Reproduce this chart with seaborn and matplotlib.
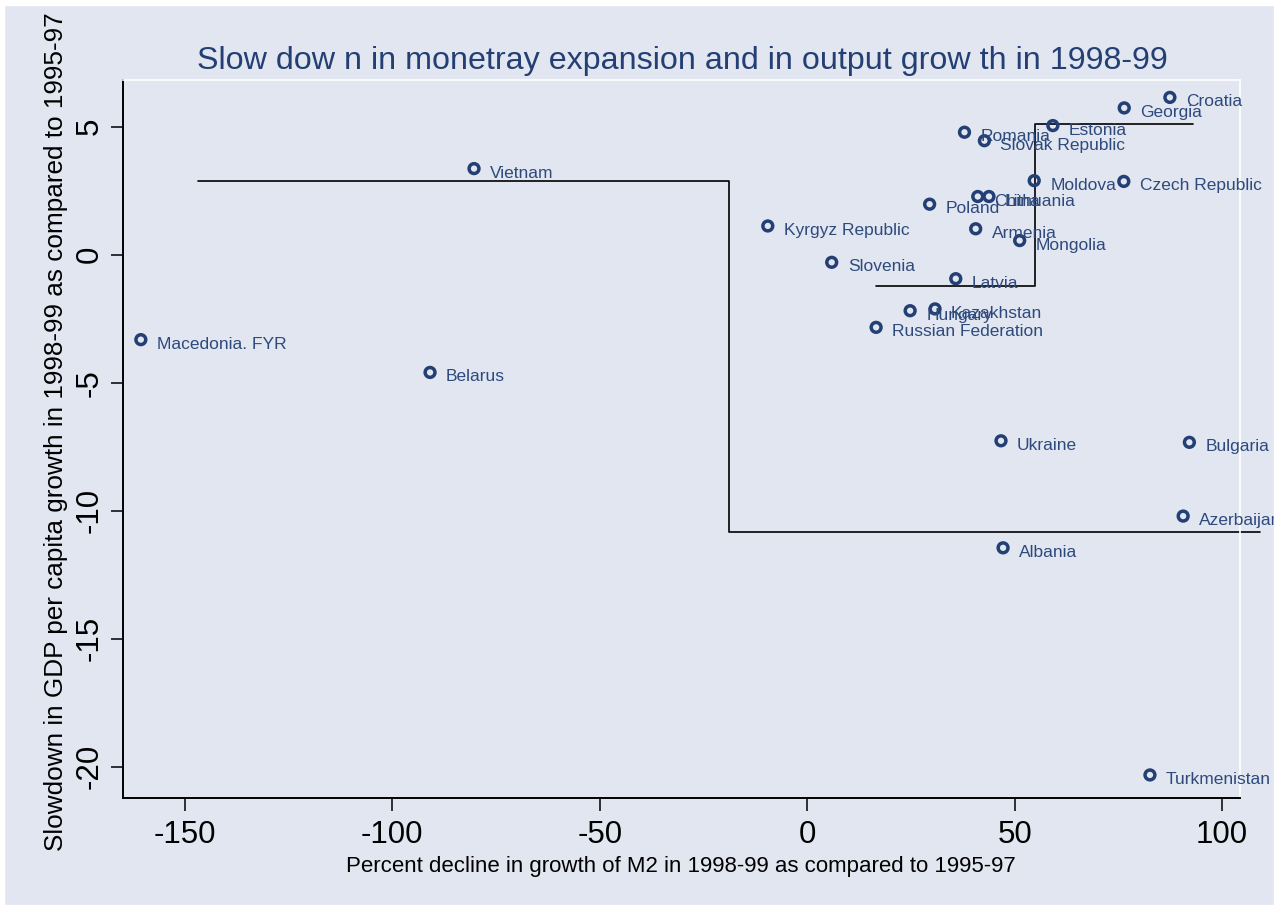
import numpy as np
import pandas as pd
import matplotlib
matplotlib.use('Agg')
import matplotlib.pyplot as plt
from matplotlib.patches import Rectangle
import seaborn as sns

countries = ['Macedonia. FYR', 'Belarus', 'Vietnam', 'Kyrgyz Republic', 'Slovenia',
             'Russian Federation', 'Hungary', 'Poland', 'Kazakhstan', 'Latvia',
             'Romania', 'Armenia', 'China', 'Slovak Republic', 'Lithuania',
             'Ukraine', 'Albania', 'Mongolia', 'Moldova', 'Estonia',
             'Czech Republic', 'Georgia', 'Turkmenistan', 'Croatia', 'Azerbaijan',
             'Bulgaria']
m2_decline = [-160.6, -90.9, -80.3, -9.5, 5.9,
              16.6, 24.8, 29.5, 30.8, 35.8,
              37.9, 40.6, 41.1, 42.7, 43.8,
              46.7, 47.2, 51.2, 54.7, 59.2,
              76.3, 76.4, 82.6, 87.4, 90.6,
              92.1]
gdp_slowdown = [-3.32, -4.60, 3.36, 1.12, -0.30,
                -2.84, -2.19, 1.97, -2.12, -0.94,
                4.78, 1.01, 2.27, 4.45, 2.27,
                -7.27, -11.45, 0.55, 2.89, 5.04,
                2.86, 5.73, -20.32, 6.14, -10.21,
                -7.33]

# step lines of the fitted splits
step_a_x = [-146.9, -18.9, -18.9, 109.1]
step_a_y = [2.89, 2.89, -10.82, -10.82]
step_b_x = [16.6, 54.8, 54.8, 93.0]
step_b_y = [-1.21, -1.21, 5.11, 5.11]

x_ticks = [-150, -100, -50, 0, 50, 100]
y_ticks = [-20, -15, -10, -5, 0, 5]

BG = '#e1e6f0'
NAVY = '#233f73'
LABEL = '#2e4a7d'

sns.set_theme(style='white')
plt.rcParams['font.family'] = ['Liberation Sans', 'DejaVu Sans']
plt.rcParams['axes.unicode_minus'] = False

df = pd.DataFrame({'country': countries, 'm2': m2_decline, 'gdp': gdp_slowdown})

W, H = 1285, 909
fig = plt.figure(figsize=(W / 100, H / 100), dpi=100, facecolor=BG)
ax = fig.add_axes([123 / W, 1 - 798 / H, (1240 - 123) / W, (798 - 80) / H])
ax.set_facecolor(BG)

ax.plot(step_a_x, step_a_y, color='black', lw=1.2, clip_on=False, zorder=2)
ax.plot(step_b_x, step_b_y, color='black', lw=1.2, clip_on=False, zorder=2)

sns.scatterplot(data=df, x='m2', y='gdp', ax=ax, marker='o', s=50,
                facecolors='none', edgecolor=NAVY, linewidth=2.5, zorder=3, clip_on=False)

for name, xv, yv in zip(countries, m2_decline, gdp_slowdown):
    ax.annotate(name, (xv, yv), xytext=(16, -9), textcoords='offset pixels',
                ha='left', va='baseline', fontsize=12.5, color=LABEL,
                annotation_clip=False, zorder=4)

ax.set_xlim(-164.9, 104.3)
ax.set_ylim(-21.22, 6.82)
ax.set_xticks(x_ticks)
ax.set_yticks(y_ticks)
ax.set_xlabel('')
ax.set_ylabel('')

for side in ['top', 'right']:
    ax.spines[side].set_color('white')
    ax.spines[side].set_linewidth(1.2)
for side in ['left', 'bottom']:
    ax.spines[side].set_color('black')
    ax.spines[side].set_linewidth(1.4)

ax.tick_params(axis='both', direction='out', length=9, width=1.1, color='black',
               labelsize=22.5, labelcolor='black', left=True, bottom=True)
ax.tick_params(axis='x', pad=7)
ax.tick_params(axis='y', pad=4.5, labelrotation=90)
for lab in ax.get_yticklabels():
    lab.set_va('center')

fig.text(682.5 / W, 1 - 68.5 / H,
         'Slow dow n in monetray expansion and in output grow th in 1998-99',
         ha='center', va='baseline', fontsize=23.2, color=NAVY)
fig.text(681 / W, 1 - 872 / H,
         'Percent decline in growth of M2 in 1998-99 as compared to 1995-97',
         ha='center', va='baseline', fontsize=16, color='black')
fig.text(44 / W, 1 - 432 / H,
         'Slowdown in GDP per capita growth in 1998-99 as compared to 1995-97',
         ha='left', va='center', rotation=90, fontsize=18.8, color='black')

# white frame outside the graph region
for rect in [(0, 0, 4, H), (1274, 0, W - 1274, H), (0, 0, W, 5), (0, 905, W, H - 905)]:
    x0, y0, w, h = rect
    fig.add_artist(Rectangle((x0 / W, 1 - (y0 + h) / H), w / W, h / H,
                             transform=fig.transFigure, color='white', zorder=10))

fig.savefig('out.png', dpi=100, facecolor=BG)
